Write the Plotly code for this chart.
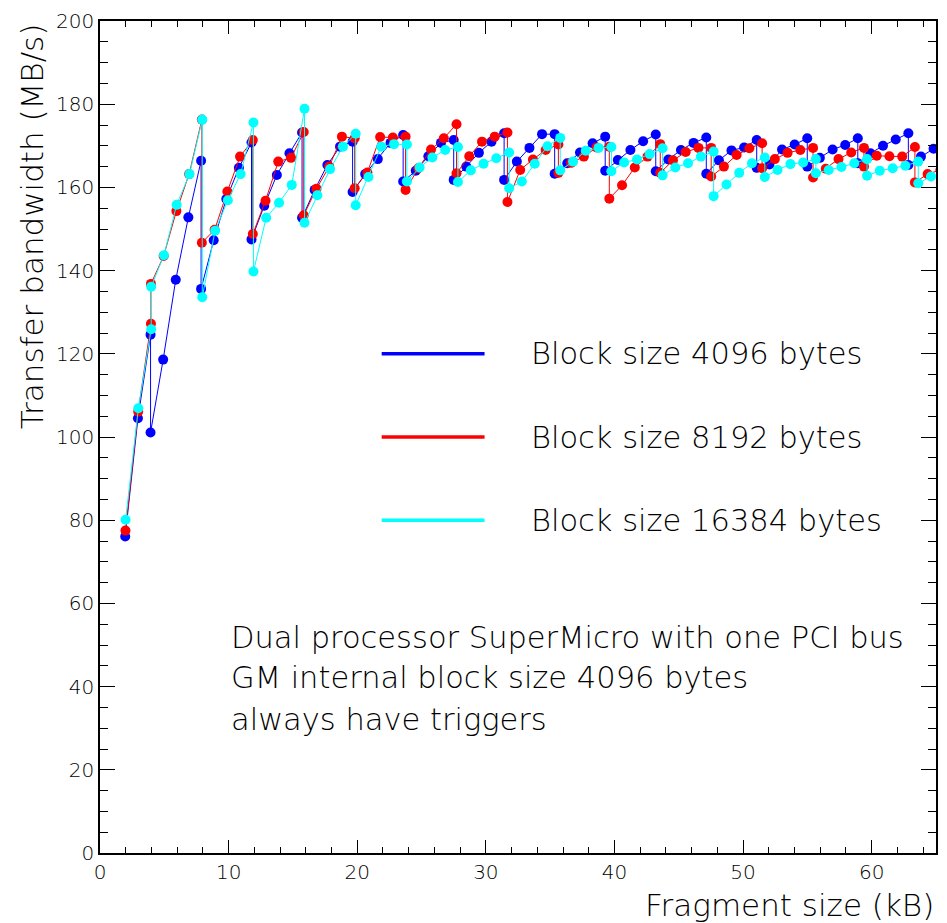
import plotly.graph_objects as go

# ---- data ----
x_4096 = [1.96, 2.95, 3.93, 3.93, 4.91, 5.89, 6.87, 7.86, 7.86, 8.84, 9.82, 10.80, 11.78, 11.78,
          12.77, 13.75, 14.73, 15.71, 15.71, 16.69, 17.68, 18.66, 19.64, 19.64, 20.62, 21.60, 22.59,
          23.57, 23.57, 24.55, 25.53, 26.51, 27.50, 27.50, 28.48, 29.46, 30.44, 31.42, 31.42, 32.41,
          33.39, 34.37, 35.35, 35.35, 36.33, 37.32, 38.30, 39.28, 39.28, 40.26, 41.24, 42.23, 43.21,
          43.21, 44.19, 45.17, 46.15, 47.14, 47.14, 48.12, 49.10, 50.08, 51.06, 51.06, 52.05, 53.03,
          54.01, 54.99, 54.99, 55.97, 56.96, 57.94, 58.92, 58.92, 59.90, 60.88, 61.87, 62.85, 62.85,
          63.83, 64.81]
y_4096 = [76.1, 104.5, 124.6, 101.1,
          118.6, 137.8, 152.8, 166.4, 135.6,
          147.3, 157.2, 164.7, 170.8, 147.5,
          155.6, 163.0, 168.2, 173.2, 152.7,
          159.4, 165.4, 169.8, 171.0, 158.9,
          163.2, 166.8, 170.7, 172.6, 161.4,
          164.0, 167.5, 170.7, 171.4, 161.8,
          165.0, 168.3, 171.0, 173.0, 161.8,
          166.2, 169.5, 172.8, 172.8, 163.3,
          165.8, 168.4, 170.6, 172.2, 164.0,
          166.6, 169.0, 171.1, 172.7, 163.9,
          166.7, 169.0, 170.7, 172.0, 163.3,
          166.5, 168.9, 169.6, 171.4, 164.7,
          165.5, 169.1, 170.3, 171.8, 165.0,
          167.1, 169.1, 170.2, 171.8, 165.8,
          168.2, 170.0, 171.5, 173.0, 165.4,
          167.4, 169.3]

x_8192 = [1.98, 2.97, 3.96, 3.96, 4.95, 5.94, 6.93, 7.92, 7.92, 8.91, 9.90, 10.89, 11.88, 11.88,
          12.87, 13.86, 14.85, 15.84, 15.84, 16.83, 17.82, 18.81, 19.80, 19.80, 20.79, 21.78, 22.77,
          23.76, 23.76, 24.75, 25.74, 26.73, 27.72, 27.72, 28.71, 29.70, 30.69, 31.68, 31.68, 32.67,
          33.66, 34.65, 35.64, 35.64, 36.63, 37.62, 38.61, 39.60, 39.60, 40.59, 41.58, 42.57, 43.56,
          43.56, 44.55, 45.54, 46.53, 47.52, 47.52, 48.51, 49.50, 50.49, 51.48, 51.48, 52.47, 53.46,
          54.45, 55.44, 55.44, 56.43, 57.42, 58.41, 59.40, 59.40, 60.39, 61.38, 62.37, 63.36, 63.36,
          64.35, 65.34]
y_8192 = [77.5, 106.1, 127.2, 136.8,
          143.5, 154.3, 163.2, 176.3, 146.7,
          149.8, 159.0, 167.4, 171.4, 148.8,
          156.8, 166.2, 167.1, 173.3, 153.3,
          159.7, 165.0, 172.2, 171.8, 159.8,
          163.6, 172.1, 172.0, 172.2, 159.4,
          164.6, 169.1, 171.8, 175.2, 163.4,
          167.5, 171.0, 172.2, 173.2, 156.5,
          164.2, 166.7, 169.0, 170.3, 163.5,
          165.9, 167.4, 169.6, 169.8, 157.3,
          160.5, 164.8, 167.4, 170.4, 163.5,
          166.5, 168.5, 169.5, 169.5, 162.6,
          165.0, 167.8, 169.4, 170.6, 164.6,
          166.8, 168.3, 169.0, 169.5, 162.4,
          164.5, 166.8, 168.4, 169.5, 165.0,
          167.6, 167.5, 167.4, 169.7, 161.2,
          163.2, 164.2]

x_16384 = [1.99, 2.98, 3.98, 3.98, 4.97, 5.96, 6.96, 7.95, 7.95, 8.95, 9.94, 10.93, 11.93, 11.93,
           12.92, 13.92, 14.91, 15.90, 15.90, 16.90, 17.89, 18.89, 19.88, 19.88, 20.87, 21.87, 22.86,
           23.86, 23.86, 24.85, 25.84, 26.84, 27.83, 27.83, 28.83, 29.82, 30.81, 31.81, 31.81, 32.80,
           33.80, 34.79, 35.78, 35.78, 36.78, 37.77, 38.77, 39.76, 39.76, 40.75, 41.75, 42.74, 43.74,
           43.74, 44.73, 45.72, 46.72, 47.71, 47.71, 48.71, 49.70, 50.69, 51.69, 51.69, 52.68, 53.68,
           54.67, 55.66, 55.66, 56.66, 57.65, 58.65, 59.64, 59.64, 60.63, 61.63, 62.62, 63.62, 63.62,
           64.61, 65.60]
y_16384 = [80.1, 106.9, 125.9, 136.1,
           143.7, 155.8, 163.2, 176.3, 133.6,
           149.6, 156.9, 163.2, 175.6, 139.8,
           152.7, 156.3, 160.6, 178.9, 151.5,
           158.1, 164.4, 169.8, 172.9, 155.7,
           162.5, 169.8, 170.4, 170.3, 161.4,
           164.8, 167.2, 169.0, 169.7, 161.3,
           164.1, 165.7, 167.0, 168.4, 159.8,
           161.4, 165.7, 169.9, 171.9, 164.1,
           166.2, 168.8, 169.5, 169.7, 163.9,
           166.0, 166.7, 168.0, 169.4, 162.9,
           164.8, 165.8, 167.4, 168.6, 157.9,
           160.7, 163.5, 165.8, 167.2, 162.5,
           164.2, 165.6, 166.0, 166.8, 163.4,
           164.2, 164.9, 165.8, 166.8, 162.8,
           164.0, 164.6, 165.2, 166.2, 161.0,
           162.6, 163.5]

series_names = ["Block size 4096 bytes", "Block size 8192 bytes", "Block size 16384 bytes"]
series_colors = ["#0000ff", "#ff0000", "#00ffff"]
legend_y = [120, 100, 80]
note_lines = ["Dual processor SuperMicro with one PCI bus",
              "GM internal block size 4096 bytes",
              "always have triggers"]
note_y = [51.8, 42.2, 32.2]

FONT = "DejaVu Sans"

fig = go.Figure()
for xs, ys, name, col in zip([x_4096, x_8192, x_16384], [y_4096, y_8192, y_16384],
                             series_names, series_colors):
    assert len(xs) == len(ys)
    fig.add_trace(go.Scatter(x=xs, y=ys, mode="lines+markers", name=name,
                             line=dict(color=col, width=1),
                             marker=dict(color=col, size=10, line=dict(width=0)),
                             showlegend=False))

# legend drawn as in the original (long line samples + text)
for name, col, ly in zip(series_names, series_colors, legend_y):
    fig.add_shape(type="line", xref="x", yref="y", x0=21.9, x1=29.9, y0=ly, y1=ly,
                  line=dict(color=col, width=3.5))
    fig.add_annotation(x=33.36, y=ly, xref="x", yref="y", text=name, showarrow=False,
                       xanchor="left", yanchor="middle",
                       font=dict(family=FONT, size=30.5, color="black", weight=300))

for line, ny in zip(note_lines, note_y):
    fig.add_annotation(x=10.06, y=ny, xref="x", yref="y", text=line, showarrow=False,
                       xanchor="left", yanchor="middle",
                       font=dict(family=FONT, size=30.5, color="black", weight=300))

# axis titles (ROOT style: right / top aligned)
fig.add_annotation(x=1, y=-0.062, xref="paper", yref="paper", text="Fragment size (kB)",
                   showarrow=False, xanchor="right", yanchor="middle",
                   font=dict(family=FONT, size=31, color="black", weight=300))
fig.add_annotation(x=-0.081, y=1, xref="paper", yref="paper", text="Transfer bandwidth (MB/s)",
                   showarrow=False, xanchor="center", yanchor="top", textangle=-90,
                   font=dict(family=FONT, size=31, color="black", weight=300))

axis_common = dict(showgrid=False, zeroline=False, showline=True, linecolor="black",
                   linewidth=1.5, mirror="ticks", ticks="inside", tickcolor="black",
                   tickwidth=1, tickfont=dict(family=FONT, size=20, color="black", weight=300))
fig.update_xaxes(range=[0, 65], dtick=10, tick0=0, ticklen=13,
                 minor=dict(dtick=2, ticks="inside", ticklen=6, tickcolor="black", tickwidth=1),
                 **axis_common)
fig.update_yaxes(range=[0, 200], dtick=20, tick0=0, ticklen=15,
                 minor=dict(dtick=5, ticks="inside", ticklen=8, tickcolor="black", tickwidth=1),
                 **axis_common)

fig.update_layout(width=947, height=923, margin=dict(l=100, r=9, t=15, b=70),
                  plot_bgcolor="white", paper_bgcolor="white",
                  font=dict(family=FONT, color="black"))

fig.write_html("out.html")
